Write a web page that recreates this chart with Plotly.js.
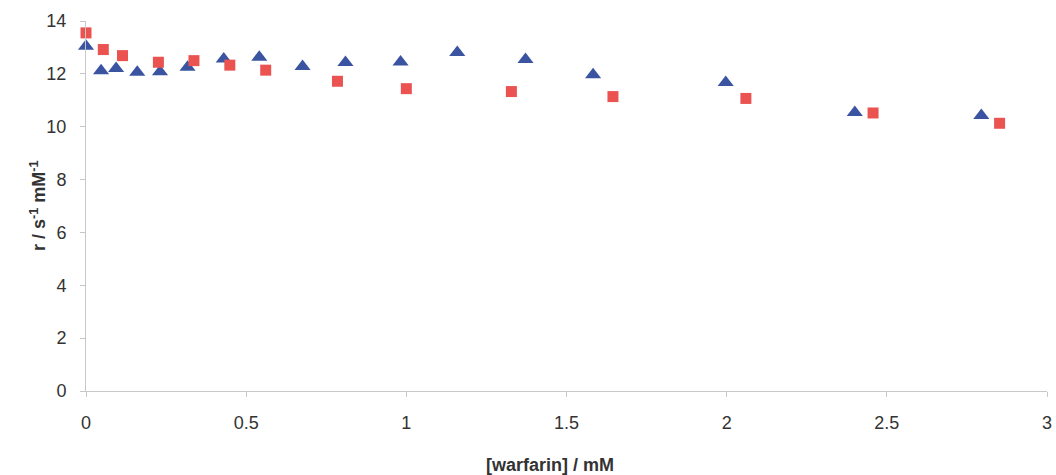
<!DOCTYPE html>
<html>
<head>
<meta charset="utf-8">
<script src="https://cdn.plot.ly/plotly-3.0.1.min.js"></script>
<style>html,body{margin:0;padding:0;background:#fff;}#chart{width:1056px;height:475px;}</style>
</head>
<body>
<div id="chart"></div>
<script>
const triX = [0, 0.047, 0.094, 0.16, 0.231, 0.317, 0.43, 0.541, 0.676, 0.81, 0.982, 1.159, 1.372, 1.583, 1.997, 2.40, 2.795];
const triY = [13.04, 12.12, 12.2, 12.06, 12.08, 12.25, 12.56, 12.63, 12.28, 12.43, 12.45, 12.81, 12.54, 11.97, 11.67, 10.54, 10.42];
const sqX = [0, 0.054, 0.114, 0.226, 0.337, 0.449, 0.561, 0.785, 1.0, 1.328, 1.645, 2.06, 2.457, 2.852];
const sqY = [13.55, 12.92, 12.69, 12.44, 12.5, 12.33, 12.14, 11.72, 11.44, 11.33, 11.14, 11.07, 10.52, 10.13];
const xTicks = [0, 0.5, 1, 1.5, 2, 2.5, 3];
const yTicks = [0, 2, 4, 6, 8, 10, 12, 14];

const traces = [
  {x: triX, y: triY, type: 'scatter', mode: 'markers', cliponaxis: false,
   marker: {symbol: 'triangle-up', size: 14, color: '#3b54a2'}},
  {x: sqX, y: sqY, type: 'scatter', mode: 'markers', cliponaxis: false,
   marker: {symbol: 'square', size: 11, color: '#ea5350'}}
];
const font = {family: 'Liberation Sans, Arial, sans-serif', color: '#333'};
const layout = {
  width: 1056, height: 475,
  margin: {l: 86, r: 9, t: 21, b: 84},
  paper_bgcolor: '#fff', plot_bgcolor: '#fff',
  showlegend: false,
  font: font,
  xaxis: {
    range: [0, 3], tickvals: xTicks, ticktext: xTicks.map(String),
    showgrid: false, zeroline: false, showline: true, linecolor: '#c8c8c8', linewidth: 1,
    ticks: 'outside', ticklen: 5, tickcolor: '#c8c8c8', ticklabelstandoff: 10,
    tickfont: {size: 18, color: '#333', family: font.family}
  },
  yaxis: {
    range: [0, 14], tickvals: yTicks, ticktext: yTicks.map(String),
    showgrid: false, zeroline: false, showline: true, linecolor: '#c8c8c8', linewidth: 1,
    ticks: 'outside', ticklen: 5, tickcolor: '#c8c8c8', ticklabelstandoff: 10,
    tickfont: {size: 18, color: '#333', family: font.family}
  },
  annotations: [
    {text: '<b>[warfarin] / mM</b>', xref: 'paper', yref: 'paper', x: 0.483, y: -0.2,
     xanchor: 'center', yanchor: 'middle', showarrow: false,
     font: {size: 18, color: '#333', family: font.family}},
    {text: '<b>r / s<sup>-1</sup> mM<sup>-1</sup></b>', xref: 'paper', yref: 'paper', x: -0.05, y: 0.5,
     xanchor: 'center', yanchor: 'middle', showarrow: false, textangle: -90,
     font: {size: 18, color: '#333', family: font.family}}
  ]
};
Plotly.newPlot('chart', traces, layout, {staticPlot: true, displayModeBar: false});
</script>
</body>
</html>
